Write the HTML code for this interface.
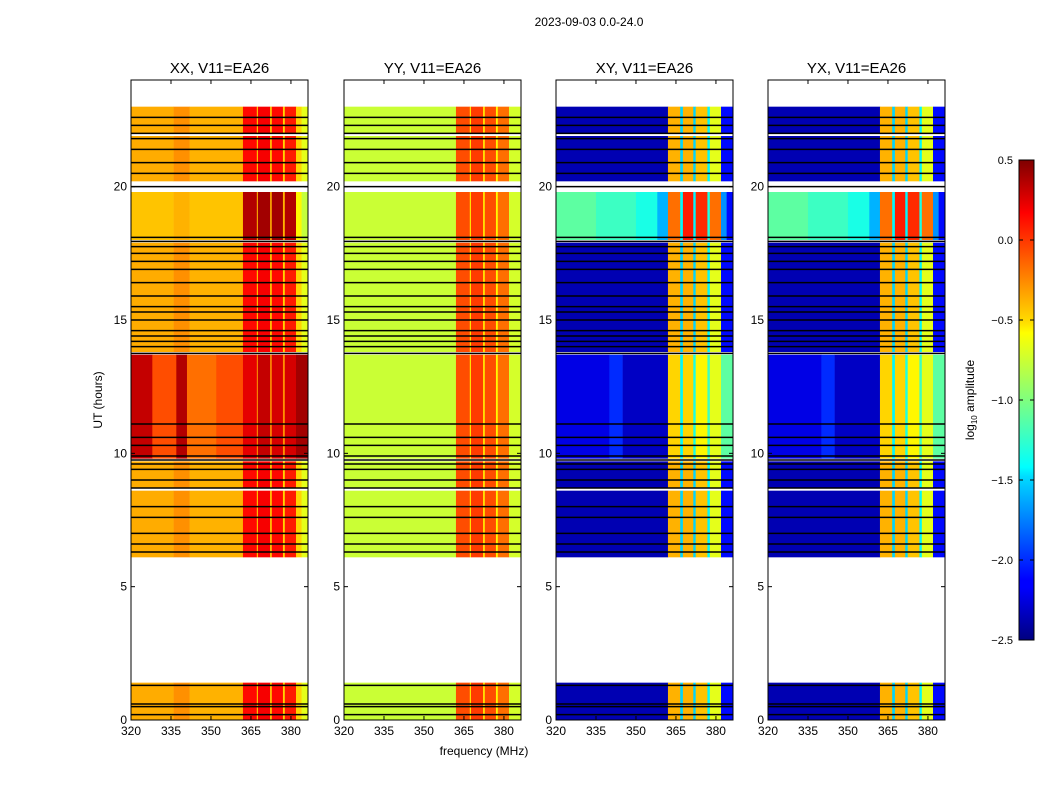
<!DOCTYPE html>
<html><head><meta charset="utf-8"><style>
body{margin:0;background:#fff;}
svg text{font-family:"Liberation Sans",sans-serif;}
</style></head><body>
<svg id="fig" width="1050" height="800" xmlns="http://www.w3.org/2000/svg">
<text x="589" y="26" font-size="12" text-anchor="middle">2023-09-03 0.0-24.0</text>
<text x="484" y="755" font-size="12" text-anchor="middle">frequency (MHz)</text>
<text x="102" y="400" font-size="12" text-anchor="middle" transform="rotate(-90 102 400)">UT (hours)</text>
<g id="plots"></g>
<defs><linearGradient id="jet" x1="0" y1="1" x2="0" y2="0">
<stop offset="0" stop-color="#00007f"/><stop offset="0.11" stop-color="#0000ff"/><stop offset="0.125" stop-color="#0000ff"/><stop offset="0.34" stop-color="#00dbff"/><stop offset="0.36" stop-color="#0ff"/><stop offset="0.5" stop-color="#7fff7f"/><stop offset="0.64" stop-color="#ff0"/><stop offset="0.66" stop-color="#ffe000"/><stop offset="0.89" stop-color="#f00"/><stop offset="1" stop-color="#7f0000"/></linearGradient></defs>
<rect x="1019" y="160" width="15" height="480" fill="url(#jet)" stroke="#000"/>
<g id="cbar"></g>
<text x="974" y="400" font-size="12" text-anchor="middle" transform="rotate(-90 974 400)">log<tspan font-size="8" dy="3">10</tspan><tspan dy="-3"> amplitude</tspan></text>
</svg>
<script>
const panelTitles = ["XX, V11=EA26","YY, V11=EA26","XY, V11=EA26","YX, V11=EA26"];
const xTicks = [320,335,350,365,380];
const yTicks = [0,5,10,15,20];
const cbarTicks = [0.5,0.0,-0.5,-1.0,-1.5,-2.0,-2.5];
const timeSegs = [[0,1.4],[6.1,8.6],[8.7,9.7],[9.8,13.7],[13.8,17.9],[18.0,19.8],[20.2,21.9],[22.0,23.0]];
const profXX = [[320,-0.38],[336,-0.3],[342,-0.4],[362,0.1],[367.2,-0.5],[367.6,0.15],[372.2,-0.5],[372.8,0.1],[377,-0.5],[377.7,0.05],[381.9,-0.5],[384,-0.7]];
const profXXc = [[320,-0.45],[336,-0.4],[342,-0.45],[362,0.35],[367.2,-0.4],[367.6,0.4],[372.2,-0.4],[372.8,0.4],[377,-0.4],[377.7,0.35],[381.9,-0.6],[384,-0.8]];
const profXXb = [[320,0.3],[328,-0.1],[337,0.35],[341,-0.2],[352,-0.1],[362,0.2],[367.2,-0.3],[367.6,0.3],[372.2,-0.3],[372.8,0.25],[377,-0.3],[377.7,0.25],[381.9,0.4]];
const profYY = [[320,-0.78],[362,-0.1],[367.2,-0.6],[367.6,-0.05],[372.2,-0.6],[372.8,-0.1],[377,-0.6],[377.7,-0.2],[381.9,-0.75]];
const profXY = [[320,-2.35],[362,-0.4],[366.6,-1.5],[367.6,-0.4],[371.5,-1.5],[372.4,-0.45],[376.8,-1.4],[377.7,-0.7],[381.9,-2.1]];
const profXYb = [[320,-1.1],[335,-1.2],[350,-1.3],[358,-1.6],[362,-0.2],[366.6,-1.4],[367.6,0.05],[371.5,-1.4],[372.4,0.0],[376.8,-1.3],[377.7,-0.2],[381.9,-1.7],[384,-2.1]];
const profXYc = [[320,-2.2],[340,-2.0],[345,-2.3],[362,-0.5],[366.6,-1.4],[367.6,-0.5],[371.5,-1.3],[372.4,-0.6],[376.8,-1.2],[377.7,-0.7],[381.9,-1.1]];
const segProfile = [
 [profXX,profXX,profXX,profXXb,profXX,profXXc,profXX,profXX],
 [profYY,profYY,profYY,profYY,profYY,profYY,profYY,profYY],
 [profXY,profXY,profXY,profXYc,profXY,profXYb,profXY,profXY],
 [profXY,profXY,profXY,profXYc,profXY,profXYb,profXY,profXY]];
const flagLines = [0.2,0.5,0.6,1.3,6.3,6.6,7.0,7.6,8.0,8.7,9.0,9.4,9.6,9.75,9.9,10.3,10.6,11.1,13.75,14.0,14.2,14.4,14.6,15.0,15.3,15.5,15.9,16.4,16.9,17.2,17.5,17.75,17.95,18.1,20.0,20.5,20.9,21.4,21.8,22.0,22.3,22.6];
const panelX = [131,344,556,768];
const pw = 177, plotTop = 80, plotBot = 720;
const fmin = 320, fmax = 386.4, tmin = 0, tmax = 24;
const xs = (f,x0)=>x0+(f-fmin)/(fmax-fmin)*pw;
const ys = t=>plotBot-(t-tmin)/(tmax-tmin)*(plotBot-plotTop);
const vmin=-2.5,vmax=0.5;
function jet(v){let x=(v-vmin)/(vmax-vmin);x=Math.max(0,Math.min(1,x));
 const c=(a)=>Math.round(255*Math.max(0,Math.min(1,a)));
 const r=c(Math.min(4*x-1.5,-4*x+4.5)),g=c(Math.min(4*x-0.5,-4*x+3.5)),b=c(Math.min(4*x+0.5,-4*x+2.5));
 return `rgb(${r},${g},${b})`;}
const NS="http://www.w3.org/2000/svg";
const G=document.getElementById('plots');
function mk(tag,attrs,parent){const e=document.createElementNS(NS,tag);for(const k in attrs)e.setAttribute(k,attrs[k]);(parent||G).appendChild(e);return e;}
panelTitles.forEach((title,p)=>{
 const x0=panelX[p];
 const g=mk('g',{});
 
 
 timeSegs.forEach((seg,si)=>{
  const prof=segProfile[p][si];
  prof.forEach((pt,k)=>{
   const f0=pt[0], f1=k+1<prof.length?prof[k+1][0]:fmax;
   const r=mk('rect',{x:xs(f0,x0),y:ys(seg[1]),width:xs(f1,x0)-xs(f0,x0)+0.3,height:ys(seg[0])-ys(seg[1]),fill:jet(pt[1])},g);
   
   
  });
 });
 flagLines.forEach(t=>{
  const l=mk('line',{x1:x0,x2:x0+pw,y1:ys(t),y2:ys(t),stroke:'#000','stroke-width':1.5},g);
  
  
 });
 const fr=mk('rect',{x:x0,y:plotTop,width:pw,height:plotBot-plotTop,fill:'none',stroke:'#000'},g);
 
 
 const tt=mk('text',{x:x0+pw/2,y:73,'font-size':15,'text-anchor':'middle'},g);
 tt.textContent=title;
 
 
 xTicks.forEach(f=>{
  const x=xs(f,x0);
  mk('line',{x1:x,x2:x,y1:plotBot,y2:plotBot-4,stroke:'#000'},g);
  mk('line',{x1:x,x2:x,y1:plotTop,y2:plotTop+4,stroke:'#000'},g);
  const t=mk('text',{x:x,y:plotBot+15,'font-size':12,'text-anchor':'middle'},g);
  t.textContent=f;
  
  
 });
 yTicks.forEach(v=>{
  const y=ys(v);
  mk('line',{x1:x0,x2:x0+4,y1:y,y2:y,stroke:'#000'},g);
  mk('line',{x1:x0+pw,x2:x0+pw-4,y1:y,y2:y,stroke:'#000'},g);
  const t=mk('text',{x:x0-4,y:y+4,'font-size':12,'text-anchor':'end'},g);
  t.textContent=v;
  
  
 });
});
const CB=document.getElementById('cbar');
cbarTicks.forEach(v=>{
 const y=640-(v-vmin)/(vmax-vmin)*480;
 mk('line',{x1:1019,x2:1023,y1:y,y2:y,stroke:'#000'},CB);
 mk('line',{x1:1034,x2:1030,y1:y,y2:y,stroke:'#000'},CB);
 const t=mk('text',{x:1013,y:y+4,'font-size':11,'text-anchor':'end'},CB);
 t.textContent=(v<0?'\u2212':'')+Math.abs(v).toFixed(1);
 
 
});
</script>
</body></html>
